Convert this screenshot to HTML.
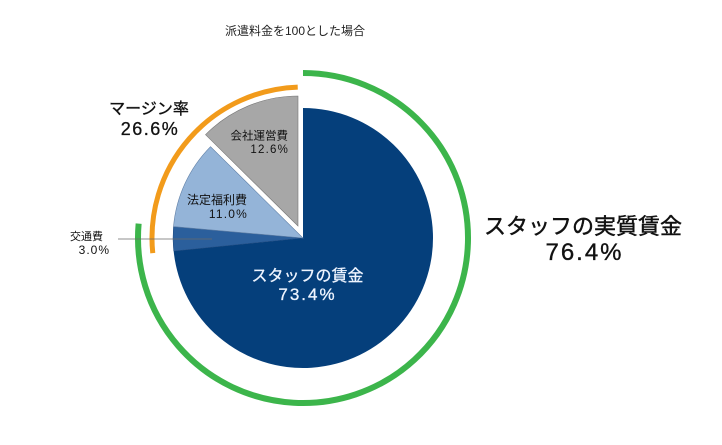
<!DOCTYPE html>
<html>
<head>
<meta charset="utf-8">
<style>
  html, body { margin:0; padding:0; background:#ffffff; }
  svg { display:block; }
  text { font-family: "Liberation Sans", "Noto Sans CJK JP", sans-serif; }
</style>
</head>
<body>
<svg width="722" height="445" viewBox="0 0 722 445" xmlns="http://www.w3.org/2000/svg">
  <rect width="722" height="445" fill="#ffffff"/>

  <!-- Title -->
  <text x="225" y="35" font-size="12" fill="#222">派遣料金を100とした場合</text>

  <!-- Green arc (real wage 76.4%) -->
  <path d="M 303 73 A 165 165 0 1 1 138.63 223.62" fill="none" stroke="#3cb54b" stroke-width="6"/>

  <!-- Orange arc (margin 26.6%) -->
  <path d="M 152.76 253.15 A 151 151 0 0 1 297.73 87.09" fill="none" stroke="#f29b1b" stroke-width="5"/>

  <!-- Pie slices -->
  <path d="M 303 238 L 303 108 A 130 130 0 1 1 173.66 251.05 Z" fill="#053f7b"/>
  <path d="M 303 238 L 173.66 251.05 A 130 130 0 0 1 173.50 226.58 Z" fill="#2b5f9c" stroke="#1f4a80" stroke-width="0.5"/>
  <path d="M 303 238 L 173.50 226.58 A 130 130 0 0 1 210.50 146.66 Z" fill="#94b4d8" stroke="#5f7fa6" stroke-width="0.6"/>
  <path d="M 298 226 L 205.5 134.66 A 130 130 0 0 1 298 96 Z" fill="#a7a7a7" stroke="#777" stroke-width="0.6"/>

  <!-- Leader line for transport -->
  <line x1="118" y1="239" x2="212" y2="239" stroke="#6a6a6a" stroke-width="0.8"/>

  <!-- Labels -->
  <text x="149" y="114" font-size="16" fill="#111" stroke="#111" stroke-width="0.35" text-anchor="middle">マージン率</text>
  <text x="150" y="135" font-size="18" fill="#111" stroke="#111" stroke-width="0.3" text-anchor="middle" letter-spacing="1.5">26.6%</text>

  <text x="288" y="139.5" font-size="11.5" fill="#111" text-anchor="end">会社運営費</text>
  <text x="289" y="153" font-size="11.5" fill="#111" text-anchor="end" letter-spacing="1.2">12.6%</text>

  <text x="247" y="204" font-size="12" fill="#111" text-anchor="end">法定福利費</text>
  <text x="248" y="218" font-size="12" fill="#111" text-anchor="end" letter-spacing="1.2">11.0%</text>

  <text x="103" y="240" font-size="11" fill="#111" text-anchor="end">交通費</text>
  <text x="110" y="254" font-size="12" fill="#111" text-anchor="end" letter-spacing="1">3.0%</text>

  <text x="307.5" y="281" font-size="16" fill="#eef4ff" stroke="#eef4ff" stroke-width="0.3" text-anchor="middle">スタッフの賃金</text>
  <text x="307.5" y="300" font-size="17" fill="#eef4ff" stroke="#eef4ff" stroke-width="0.3" text-anchor="middle" letter-spacing="2">73.4%</text>

  <text x="583" y="234" font-size="22" fill="#111" stroke="#111" stroke-width="0.45" text-anchor="middle">スタッフの実質賃金</text>
  <text x="584.5" y="260" font-size="24" fill="#111" stroke="#111" stroke-width="0.35" text-anchor="middle" letter-spacing="2">76.4%</text>
</svg>
</body>
</html>
